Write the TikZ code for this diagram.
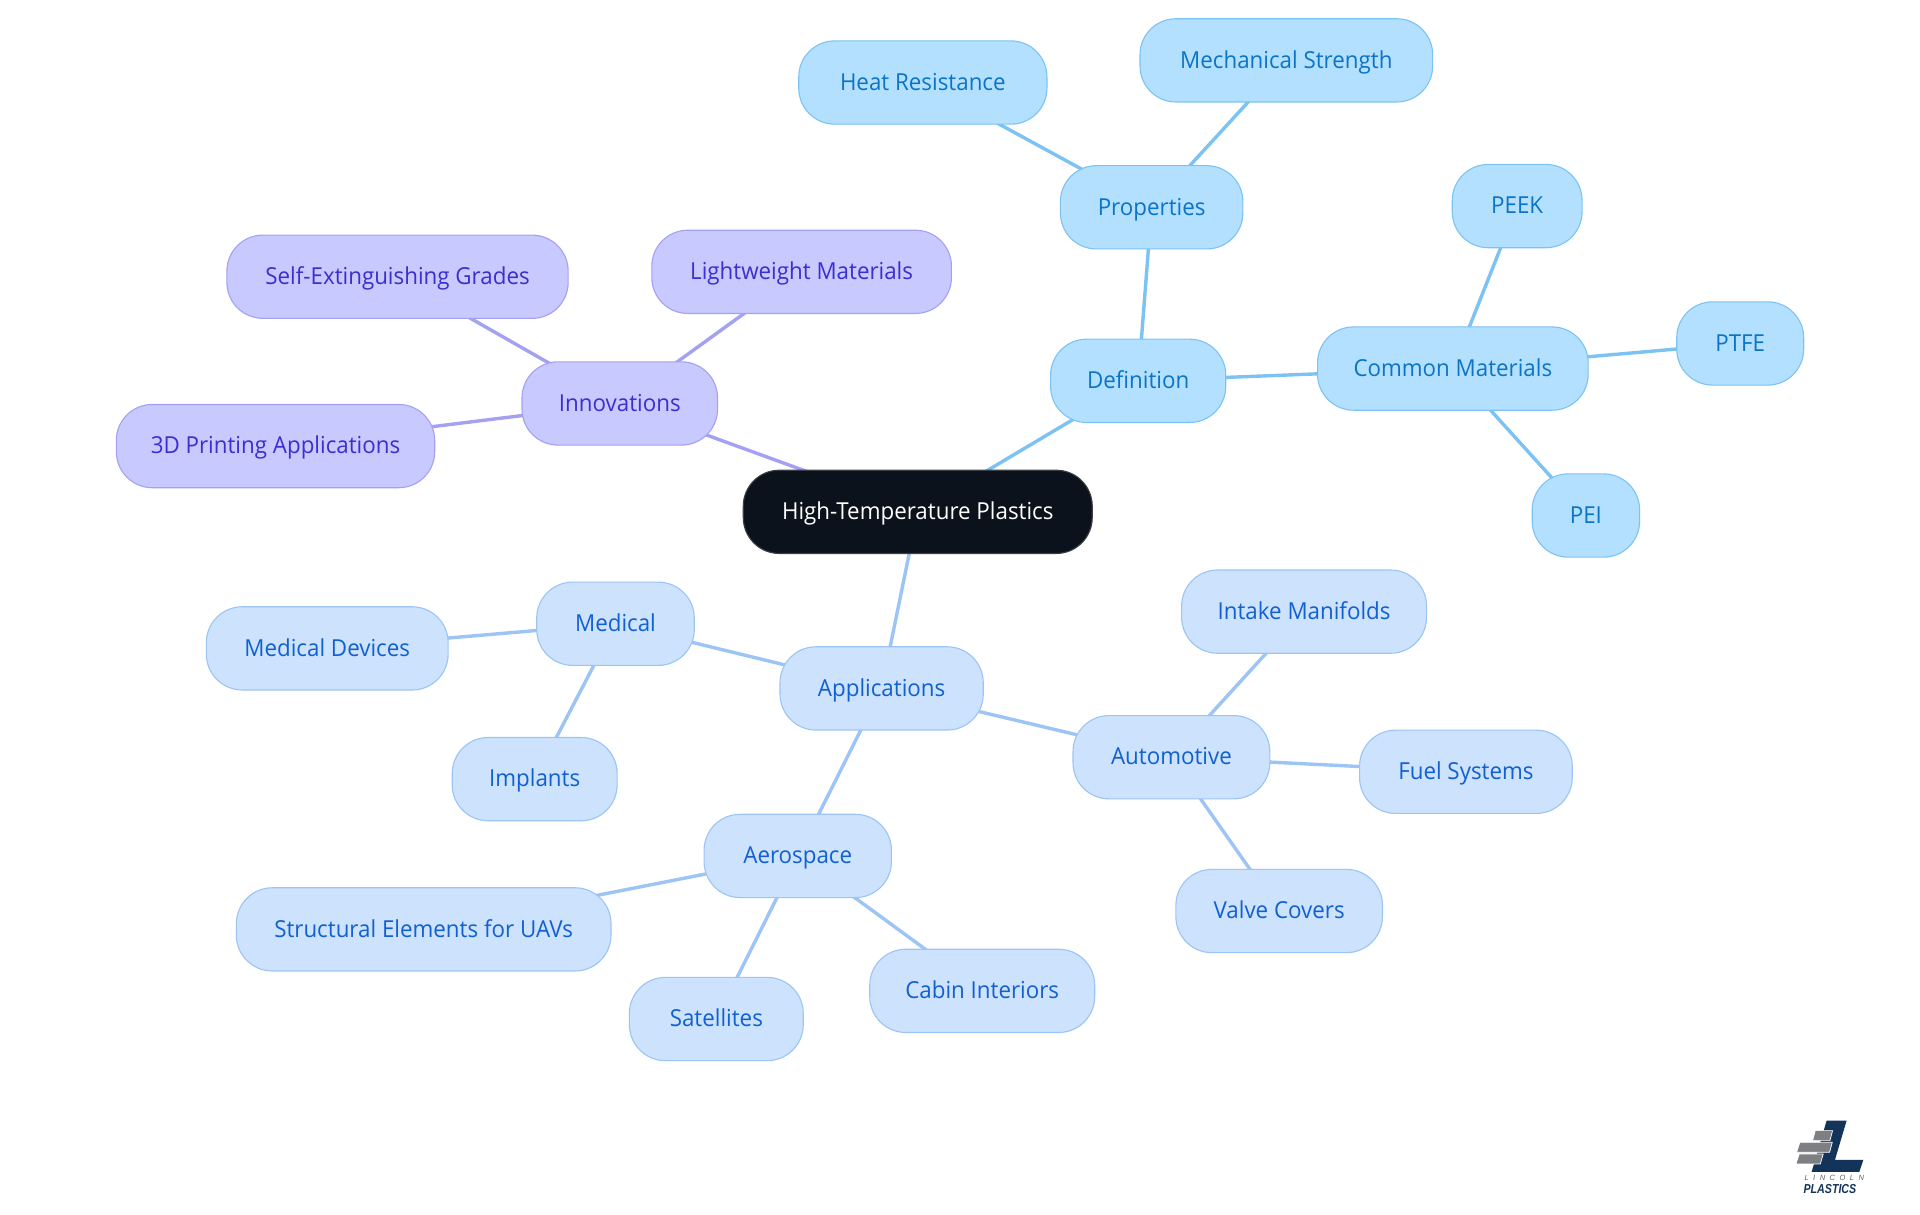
\documentclass[tikz,border=0pt]{standalone}
\usepackage{fontspec}
\setmainfont[FakeStretch=0.955]{Open Sans}
\newfontfamily\logofont[FakeStretch=0.82]{Liberation Sans}
\newfontfamily\logofontb{Liberation Sans}
\usetikzlibrary{backgrounds}
\definecolor{rootfill}{HTML}{0B121B}
\definecolor{rootline}{HTML}{3A3F46}
\definecolor{purfill}{HTML}{C8C9FE}
\definecolor{purline}{HTML}{A4A1F3}
\definecolor{purtext}{HTML}{3A2FCF}
\definecolor{skyfill}{HTML}{B4E0FF}
\definecolor{skyline}{HTML}{7CC3F4}
\definecolor{skytext}{HTML}{0B74C6}
\definecolor{blufill}{HTML}{CCE2FD}
\definecolor{bluline}{HTML}{9CC4F4}
\definecolor{blutext}{HTML}{1160D2}
\definecolor{logonavy}{HTML}{12345A}
\definecolor{logogrey}{HTML}{7D7F82}
\definecolor{logotext}{HTML}{5F6266}
\tikzset{
  mm/.style={rectangle,rounded corners=36bp,inner sep=0pt,line width=1.1bp,
    text height=22bp,text depth=6.6bp,font=\fontsize{23.4bp}{28bp}\selectfont},
  rootn/.style={mm,fill=rootfill,draw=rootline,text=white},
  purn/.style={mm,fill=purfill,draw=purline,text=purtext},
  skyn/.style={mm,fill=skyfill,draw=skyline,text=skytext},
  blun/.style={mm,fill=blufill,draw=bluline,text=blutext},
  pure/.style={draw=purline,line width=3.4bp},
  skye/.style={draw=skyline,line width=3.4bp},
  blue/.style={draw=bluline,line width=3.4bp},
  brick/.style={fill=logogrey,draw=white,line width=0.7bp},
}
\newcommand{\mnode}[7]{%
  \pgfmathsetmacro{\mw}{(#3-#2)*1.22449}%
  \pgfmathsetmacro{\mh}{(#5-#4)*1.22449}%
  \node[#6,minimum width=\mw bp,minimum height=\mh bp] (#1) at ({(#2+#3)/2},{(#4+#5)/2}) {#7};}
\begin{document}
\begin{tikzpicture}[x=1.22449bp,y=-1.22449bp]
\useasboundingbox (0,0) rectangle (1568,992.25);
\mnode{root}{607}{892}{384}{452}{rootn}{High-Temperature Plastics}
\mnode{def}{858}{1001}{277}{345}{skyn}{Definition}
\mnode{prop}{866}{1015}{135.3}{203.3}{skyn}{Properties}
\mnode{heat}{652.3}{855}{33.4}{101.4}{skyn}{Heat Resistance}
\mnode{mech}{931}{1170}{15.3}{83.3}{skyn}{Mechanical Strength}
\mnode{comm}{1076}{1297}{267}{335}{skyn}{Common Materials}
\mnode{peek}{1186}{1292}{134.3}{202.3}{skyn}{PEEK}
\mnode{ptfe}{1369.3}{1473}{246.5}{314.5}{skyn}{PTFE}
\mnode{pei}{1251.3}{1339}{387}{455}{skyn}{PEI}
\mnode{inno}{426.3}{586}{295.5}{363.5}{purn}{Innovations}
\mnode{self}{185.3}{464}{192}{260}{purn}{Self-Extinguishing Grades}
\mnode{light}{532.3}{777}{188}{256}{purn}{Lightweight Materials}
\mnode{print}{95}{355}{330.3}{398.3}{purn}{3D Printing Applications}
\mnode{appl}{637}{803}{528.2}{596.2}{blun}{Applications}
\mnode{medi}{438.3}{567}{475.4}{543.4}{blun}{Medical}
\mnode{devi}{168.5}{366}{495.5}{563.5}{blun}{Medical Devices}
\mnode{impl}{369.3}{504}{602.3}{670.3}{blun}{Implants}
\mnode{auto}{876.3}{1037}{584.4}{652.4}{blun}{Automotive}
\mnode{inta}{965}{1165}{465.5}{533.5}{blun}{Intake Manifolds}
\mnode{fuel}{1110.3}{1284}{596.3}{664.3}{blun}{Fuel Systems}
\mnode{valv}{960.3}{1129}{710}{778}{blun}{Valve Covers}
\mnode{aero}{575}{728}{665}{733}{blun}{Aerospace}
\mnode{stru}{193}{499}{725}{793}{blun}{Structural Elements for UAVs}
\mnode{sate}{514}{656}{798.2}{866.2}{blun}{Satellites}
\mnode{cabi}{710.3}{894}{775.2}{843.2}{blun}{Cabin Interiors}
\begin{scope}[on background layer]
\fill[white] (0,0) rectangle (1568,992.25);
\draw[pure] (root.center)--(inno.center);
\draw[pure] (inno.center)--(self.center);
\draw[pure] (inno.center)--(light.center);
\draw[pure] (inno.center)--(print.center);
\draw[skye] (root.center)--(def.center);
\draw[skye] (def.center)--(prop.center);
\draw[skye] (def.center)--(comm.center);
\draw[skye] (prop.center)--(heat.center);
\draw[skye] (prop.center)--(mech.center);
\draw[skye] (comm.center)--(peek.center);
\draw[skye] (comm.center)--(ptfe.center);
\draw[skye] (comm.center)--(pei.center);
\draw[blue] (root.center)--(appl.center);
\draw[blue] (appl.center)--(medi.center);
\draw[blue] (appl.center)--(auto.center);
\draw[blue] (appl.center)--(aero.center);
\draw[blue] (medi.center)--(devi.center);
\draw[blue] (medi.center)--(impl.center);
\draw[blue] (auto.center)--(inta.center);
\draw[blue] (auto.center)--(fuel.center);
\draw[blue] (auto.center)--(valv.center);
\draw[blue] (aero.center)--(stru.center);
\draw[blue] (aero.center)--(sate.center);
\draw[blue] (aero.center)--(cabi.center);
\end{scope}
% logo
\begin{scope}[shift={(1453.6,898.3)},x=0.33333bp,y=-0.33333bp]
\fill[logonavy] (140,62)--(200,62)--(165,180)--(250,180)--(238,216)--(95,216)--cycle;
\filldraw[brick] (106,92)--(158,92)--(150,122)--(98,122)--cycle;
\filldraw[brick] (60,127)--(157,127)--(149,157)--(50,157)--cycle;
\filldraw[brick] (58,162)--(130,162)--(121,192)--(48,192)--cycle;
\node[inner sep=0pt,text=logotext,font=\logofontb\fontsize{7.5bp}{8bp}\selectfont\itshape\addfontfeatures{LetterSpace=60}] (lincoln) at (163,235) {LINCOLN};
\node[inner sep=0pt,text=logonavy,font=\logofont\fontsize{13bp}{14bp}\selectfont\bfseries\itshape] (plastics) at (150,266) {PLASTICS};
\end{scope}
\end{tikzpicture}
\end{document}
